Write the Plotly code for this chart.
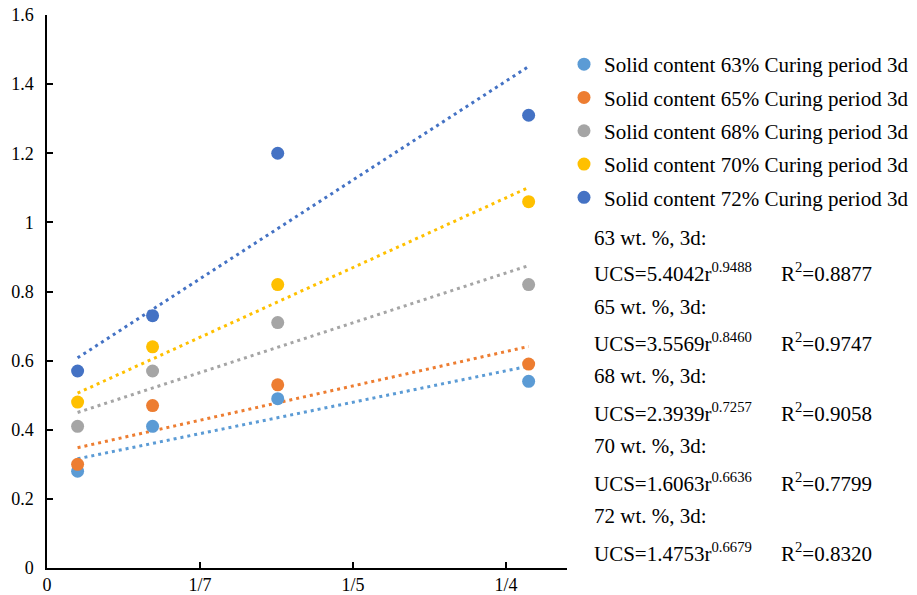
import plotly.graph_objects as go

# ---- data ----
r_values = [0.110, 0.1345, 0.1754, 0.2574]
series_names = [
    "Solid content 63% Curing period 3d",
    "Solid content 65% Curing period 3d",
    "Solid content 68% Curing period 3d",
    "Solid content 70% Curing period 3d",
    "Solid content 72% Curing period 3d",
]
ucs_63 = [0.28, 0.41, 0.49, 0.54]
ucs_65 = [0.30, 0.47, 0.53, 0.59]
ucs_68 = [0.41, 0.57, 0.71, 0.82]
ucs_70 = [0.48, 0.64, 0.82, 1.06]
ucs_72 = [0.57, 0.73, 1.20, 1.31]
# fitted trendline values at first and last r
trend_63 = [0.316, 0.584]
trend_65 = [0.348, 0.641]
trend_68 = [0.450, 0.875]
trend_70 = [0.506, 1.101]
trend_72 = [0.608, 1.451]
x_tickvals = [0.10, 0.15, 0.20, 0.25]
x_ticktext = ["0", "1/7", "1/5", "1/4"]
y_tickvals = [0, 0.2, 0.4, 0.6, 0.8, 1.0, 1.2, 1.4, 1.6]
y_ticktext = ["0", "0.2", "0.4", "0.6", "0.8", "1", "1.2", "1.4", "1.6"]
fit_labels = ["63 wt. %, 3d:", "65 wt. %, 3d:", "68 wt. %, 3d:", "70 wt. %, 3d:", "72 wt. %, 3d:"]
fit_coef = ["5.4042", "3.5569", "2.3939", "1.6063", "1.4753"]
fit_exp = ["0.9488", "0.8460", "0.7257", "0.6636", "0.6679"]
fit_r2 = ["0.8877", "0.9747", "0.9058", "0.7799", "0.8320"]

colors = ["#5B9BD5", "#ED7D31", "#A5A5A5", "#FFC000", "#4472C4"]
series = [ucs_63, ucs_65, ucs_68, ucs_70, ucs_72]
trends = [trend_63, trend_65, trend_68, trend_70, trend_72]

FONT = "Liberation Serif, Times New Roman, serif"
W, H = 917, 595
L, R, T, B = 47, 350, 15, 27
pw, ph = W - L - R, H - T - B

def px_x(px):
    return (px - L) / pw

def px_y(py):
    return (H - B - py) / ph

fig = go.Figure()
for i in range(5):
    fig.add_trace(go.Scatter(
        x=[r_values[0], r_values[-1]], y=trends[i], mode="lines",
        line=dict(color=colors[i], width=3, dash="3px,4px"),
        showlegend=False, hoverinfo="skip"))
for i in range(5):
    fig.add_trace(go.Scatter(
        x=r_values, y=series[i], mode="markers", name=series_names[i],
        legendgroup=f"g{i}",
        marker=dict(color=colors[i], size=13, line=dict(width=0))))

annotations = []
label_y = [238, 307, 376, 446, 516]
eq_y = [272, 342, 412, 482, 552]
for i in range(5):
    annotations.append(dict(
        x=px_x(592), y=px_y(label_y[i]), xref="paper", yref="paper",
        text=fit_labels[i], showarrow=False, xanchor="left", yanchor="middle",
        font=dict(family=FONT, size=21, color="black")))
    annotations.append(dict(
        x=px_x(592), y=px_y(eq_y[i]), xref="paper", yref="paper",
        text=f"UCS={fit_coef[i]}r<sup>{fit_exp[i]}</sup>", showarrow=False,
        xanchor="left", yanchor="middle",
        font=dict(family=FONT, size=21, color="black")))
    annotations.append(dict(
        x=px_x(779), y=px_y(eq_y[i]), xref="paper", yref="paper",
        text=f"R<sup>2</sup>={fit_r2[i]}", showarrow=False,
        xanchor="left", yanchor="middle",
        font=dict(family=FONT, size=21, color="black")))

fig.update_layout(
    width=W, height=H,
    margin=dict(l=L, r=R, t=T, b=B, pad=0, autoexpand=False),
    paper_bgcolor="white", plot_bgcolor="white",
    font=dict(family=FONT, size=18, color="black"),
    xaxis=dict(range=[0.10, 0.10 + 0.05 * pw / 153], tickvals=x_tickvals, ticktext=x_ticktext,
               showgrid=False, zeroline=False, showline=True, linecolor="black", linewidth=1.5,
               ticks="inside", ticklen=6, tickwidth=1.5, tickcolor="black", automargin=False,
               ticklabelstandoff=0,
               tickfont=dict(family=FONT, size=18, color="black")),
    yaxis=dict(range=[0, 1.6], tickvals=y_tickvals, ticktext=y_ticktext,
               showgrid=False, zeroline=False, showline=True, linecolor="black", linewidth=1.5,
               ticks="inside", ticklen=6, tickwidth=1.5, tickcolor="black", automargin=False,
               ticklabelstandoff=8,
               tickfont=dict(family=FONT, size=18, color="black")),
    legend=dict(x=px_x(564), y=px_y(44), xanchor="left", yanchor="top",
                font=dict(family=FONT, size=21, color="black"),
                tracegroupgap=3, itemwidth=30, bgcolor="rgba(0,0,0,0)"),
    annotations=annotations,
)
fig.write_html("out.html")
